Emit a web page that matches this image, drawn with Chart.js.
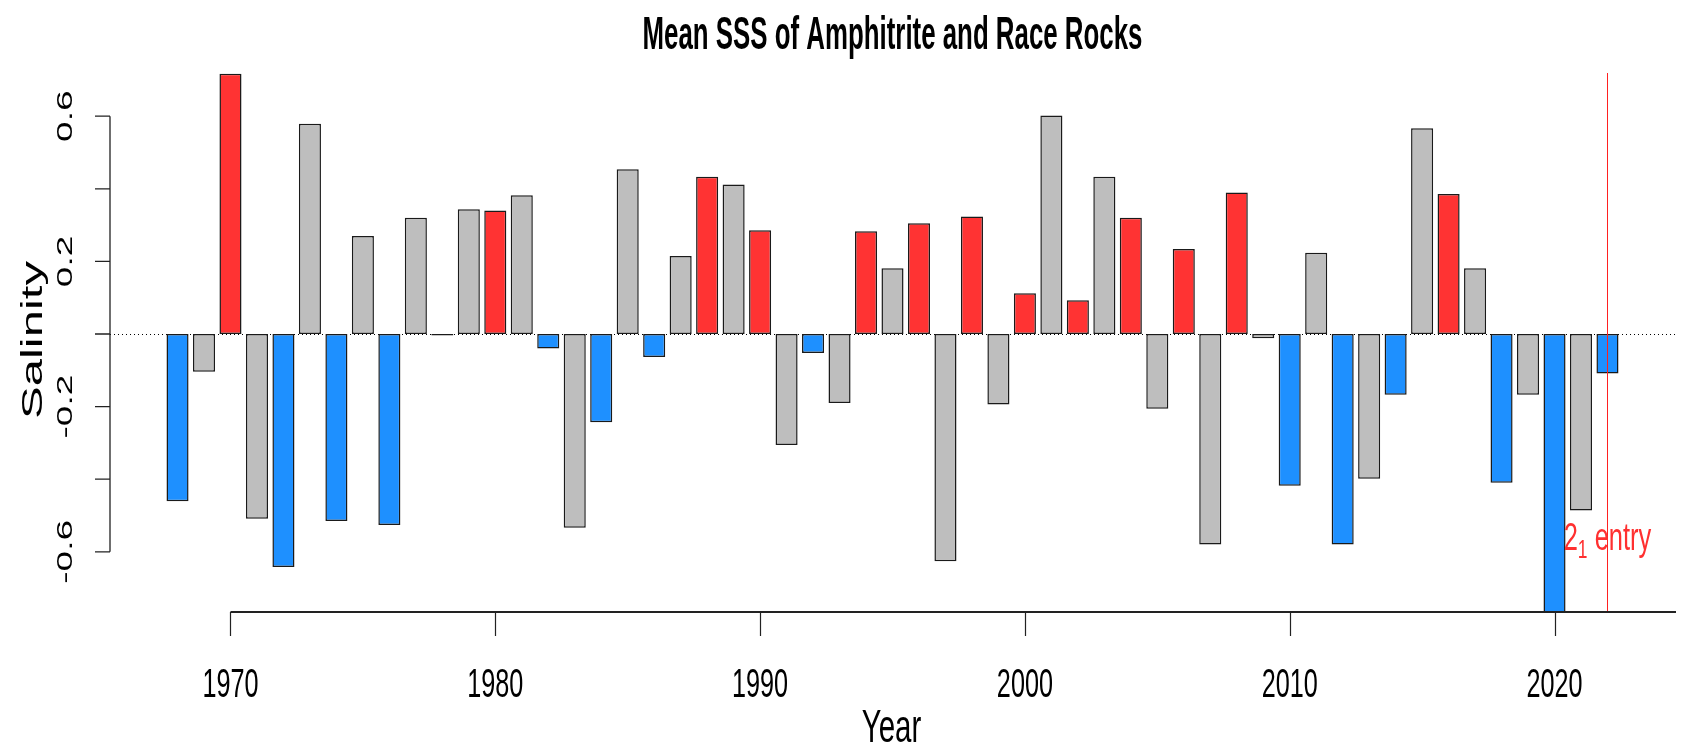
<!DOCTYPE html>
<html>
<head>
<meta charset="utf-8">
<script src="https://cdn.jsdelivr.net/npm/chart.js@4.4.1/dist/chart.umd.min.js"></script>
<style>
  html, body { margin: 0; padding: 0; background: #fff; }
  #wrap { width: 1683px; height: 747px; }
</style>
</head>
<body>
<div id="wrap"><canvas id="chart" width="1683" height="747"></canvas></div>
<script>
// years of the record
var years = [];
for (var yr = 1968; yr <= 2022; yr++) years.push(yr);

// mean SSS anomaly per year
var salinity = [
  -0.461, -0.104, 0.717, -0.509, -0.642, 0.579, -0.515, 0.270, -0.526, 0.320,
  -0.004, 0.344, 0.340, 0.382, -0.040, -0.534, -0.243, 0.454, -0.063, 0.215,
  0.433, 0.412, 0.286, -0.306, -0.052, -0.190, 0.283, 0.181, 0.305, -0.626,
  0.324, -0.194, 0.112, 0.602, 0.093, 0.433, 0.320, -0.206, 0.234, -0.580,
  0.390, -0.012, -0.418, 0.224, -0.580, -0.399, -0.167, 0.567, 0.386, 0.181,
  -0.410, -0.167, -0.800, -0.486, -0.109
];

// 1 = red year, -1 = blue year, 0 = grey year
var flags = [
  -1, 0, 1, 0, -1, 0, -1, 0, -1, 0,
  0, 0, 1, 0, -1, 0, -1, 0, -1, 0,
  1, 0, 1, 0, -1, 0, 1, 0, 1, 0,
  1, 0, 1, 0, 1, 0, 1, 0, 1, 0,
  1, 0, -1, 0, -1, 0, -1, 0, 1, 0,
  -1, 0, -1, 0, -1
];

var xTicks = [1970, 1980, 1990, 2000, 2010, 2020];
var yTicks = [-0.6, -0.4, -0.2, 0, 0.2, 0.4, 0.6];
var yTickLabels = ['-0.6', '', '-0.2', '', '0.2', '', '0.6'];

var entryYear = 2022;   // red vertical line
var entryLabelY = -0.595;

var FONT = '"Liberation Sans", Arial, Helvetica, sans-serif';

// texto estreito (a figura original foi comprimida na horizontal)
function txt(ctx, s, x, y, size, bold, sx, rot, align, color) {
  ctx.save();
  ctx.translate(x, y);
  if (rot) { ctx.rotate(rot); ctx.scale(1, sx); } else { ctx.scale(sx, 1); }
  ctx.font = (bold ? 'bold ' : '') + size + 'px ' + FONT;
  ctx.textAlign = align || 'center';
  ctx.textBaseline = 'alphabetic';
  ctx.fillStyle = color || '#000';
  ctx.fillText(s, 0, 0);
  ctx.restore();
}

var rAxes = {
  id: 'rAxes',
  beforeDatasetsDraw: function(chart) {
    var ctx = chart.ctx, a = chart.chartArea, ys = chart.scales.y;
    var y0 = Math.round(ys.getPixelForValue(0)) + 0.5;
    ctx.save();
    ctx.strokeStyle = '#000';
    ctx.lineWidth = 1;
    ctx.setLineDash([1, 3]);
    ctx.beginPath();
    ctx.moveTo(a.left, y0);
    ctx.lineTo(a.right, y0);
    ctx.stroke();
    ctx.restore();
  },
  afterDatasetsDraw: function(chart) {
    var ctx = chart.ctx, a = chart.chartArea;
    var xs = chart.scales.x, ys = chart.scales.y;

    // linha vermelha
    var vx = Math.round(xs.getPixelForValue(entryYear)) + 0.5;
    ctx.save();
    ctx.strokeStyle = '#FF2020';
    ctx.lineWidth = 1;
    ctx.beginPath();
    ctx.moveTo(vx, a.top);
    ctx.lineTo(vx, a.bottom);
    ctx.stroke();

    // eixo y
    ctx.strokeStyle = '#222';
    ctx.lineWidth = 1.3;
    var yTop = ys.getPixelForValue(yTicks[yTicks.length - 1]);
    var yBot = ys.getPixelForValue(yTicks[0]);
    ctx.beginPath();
    ctx.moveTo(a.left, yTop);
    ctx.lineTo(a.left, yBot);
    yTicks.forEach(function(v) {
      var py = ys.getPixelForValue(v);
      ctx.moveTo(a.left, py);
      ctx.lineTo(a.left - 15, py);
    });
    ctx.stroke();

    // eixo x
    ctx.lineWidth = 2;
    var x1970 = xs.getPixelForValue(xTicks[0]);
    ctx.beginPath();
    ctx.moveTo(x1970, a.bottom + 1);
    ctx.lineTo(a.right + 1, a.bottom + 1);
    ctx.stroke();
    ctx.lineWidth = 1.2;
    ctx.beginPath();
    xTicks.forEach(function(v) {
      var px = Math.round(xs.getPixelForValue(v)) + 0.5;
      ctx.moveTo(px, a.bottom + 1);
      ctx.lineTo(px, a.bottom + 25);
    });
    ctx.stroke();
    ctx.restore();

    // rótulos
    xTicks.forEach(function(v) {
      txt(ctx, String(v), xs.getPixelForValue(v), a.bottom + 86, 40, false, 0.63);
    });
    yTicks.forEach(function(v, i) {
      if (yTickLabels[i]) txt(ctx, yTickLabels[i], 72, ys.getPixelForValue(v), 37, false, 0.62, -Math.PI / 2);
    });
    var cx = (a.left + a.right) / 2;
    txt(ctx, 'Mean SSS of Amphitrite and Race Rocks', cx, 49, 47, true, 0.55);
    txt(ctx, 'Year', cx - 1, 742, 46, false, 0.64);
    txt(ctx, 'Salinity', 42, (ys.getPixelForValue(0.6) + ys.getPixelForValue(-0.6)) / 2 + 6, 49, false, 0.62, -Math.PI / 2);

    // 2_1 entry
    var sx = 0.67, red = '#FF3030';
    ctx.save();
    ctx.font = '38px ' + FONT;
    var w2 = ctx.measureText('2').width * sx;
    var wRest = ctx.measureText(' entry').width * sx;
    ctx.font = '26px ' + FONT;
    var w1 = ctx.measureText('1').width * sx;
    ctx.restore();
    var total = w2 + w1 + wRest;
    var lx = xs.getPixelForValue(entryYear) - total / 2;
    var ly = ys.getPixelForValue(entryLabelY);
    txt(ctx, '2', lx, ly, 38, false, sx, 0, 'left', red);
    txt(ctx, '1', lx + w2, ly + 8, 26, false, sx, 0, 'left', red);
    txt(ctx, ' entry', lx + w2 + w1, ly, 38, false, sx, 0, 'left', red);
  }
};

var colours = flags.map(function(f) {
  return f > 0 ? '#FF3333' : (f < 0 ? '#1E90FF' : '#BEBEBE');
});

new Chart(document.getElementById('chart').getContext('2d'), {
  type: 'bar',
  data: {
    datasets: [{
      data: years.map(function(y, i) { return { x: y, y: salinity[i] }; }),
      backgroundColor: colours,
      borderColor: '#1a1a1a',
      borderWidth: 1.5,
      borderSkipped: false,
      barPercentage: 1 / 1.2,
      categoryPercentage: 1
    }]
  },
  options: {
    responsive: false,
    animation: false,
    devicePixelRatio: 1,
    layout: { padding: { left: 110, right: 8, top: 73, bottom: 136 } },
    plugins: { legend: { display: false }, tooltip: { enabled: false }, title: { display: false } },
    scales: {
      x: { type: 'linear', min: 1965.45, max: 2024.55, display: false, offset: false },
      y: { min: -0.763, max: 0.719, display: false }
    }
  },
  plugins: [rAxes]
});
</script>
</body>
</html>
